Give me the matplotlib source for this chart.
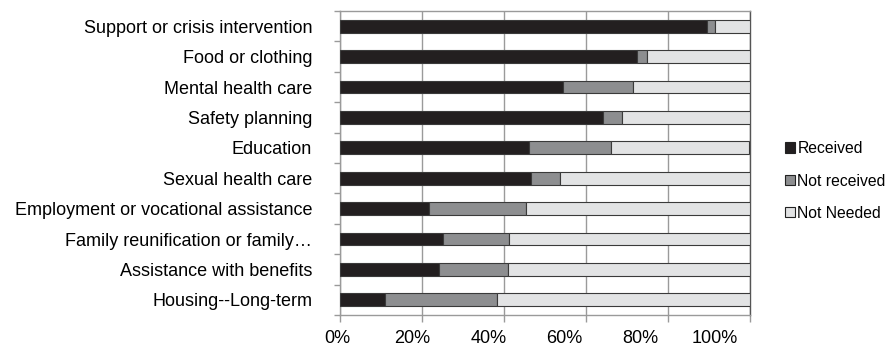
import matplotlib
matplotlib.use("Agg")
import matplotlib.pyplot as plt
import matplotlib.transforms as mtransforms
import numpy as np

categories = ["Support or crisis intervention", "Food or clothing", "Mental health care",
              "Safety planning", "Education", "Sexual health care",
              "Employment or vocational assistance", "Family reunification or family…",
              "Assistance with benefits", "Housing--Long-term"]
received = [89.7, 72.6, 54.4, 64.2, 46.2, 46.7, 21.7, 25.2, 24.1, 11.1]
not_received = [1.9, 2.3, 17.2, 4.6, 20.0, 7.1, 23.8, 16.1, 16.9, 27.3]
not_needed = [100 - a - b for a, b in zip(received, not_received)]
series_names = ["Received", "Not received", "Not Needed"]
colors = ["#231f20", "#8d8e90", "#e2e3e4"]
xticks = [0, 20, 40, 60, 80, 100]
xticklabels = ["0%", "20%", "40%", "60%", "80%", "100%"]

plt.rcParams['font.family'] = ['Liberation Sans', 'DejaVu Sans']

fig = plt.figure(figsize=(8.89, 3.5), dpi=100)
ax = fig.add_axes([340/889, 1 - 315/350, (749.5 - 340)/889, (315 - 11)/350])

y = np.arange(len(categories))
left = np.zeros(len(categories))
for vals, name, c in zip([received, not_received, not_needed], series_names, colors):
    ax.barh(y, vals, left=left, height=0.42, color=c, edgecolor="#3a3a3a",
            linewidth=0.8, label=name, zorder=3)
    left = left + np.array(vals)

ax.set_ylim(len(categories) - 0.5, -0.5)
ax.set_xlim(0, 100)
ax.set_xticks(xticks)
ax.set_xticklabels(xticklabels, fontsize=13)
ax.set_yticks(y)
ax.set_yticklabels(categories, fontsize=13)
ax.set_yticks(np.arange(len(categories) + 1) - 0.5, minor=True)
ax.tick_params(axis='y', which='major', length=0, pad=20)
ax.tick_params(axis='y', which='minor', length=4, color="#9a9a9a", width=1)
ax.tick_params(axis='x', length=5, color="#9a9a9a", width=1, pad=5.5)
ax.grid(axis='x', color="#9a9a9a", linewidth=1, zorder=0)
for s in ax.spines.values():
    s.set_color("#9a9a9a")
    s.set_linewidth(1)
ax.spines['right'].set_color("#555555")

# shift x tick labels slightly left, as in the reference rendering
label_shift_px = [-3, -10, -15, -21, -27, -35]
for lab, dx in zip(ax.get_xticklabels(), label_shift_px):
    lab.set_transform(lab.get_transform() +
                      mtransforms.ScaledTranslation(dx / 100, 0, fig.dpi_scale_trans))

leg = fig.legend(loc="center left", bbox_to_anchor=(779/889, 1 - 181/350),
                 frameon=False, fontsize=11.3, handlelength=0.65, handleheight=0.65,
                 handletextpad=0.12, labelspacing=1.1, borderaxespad=0)
for h in leg.legend_handles:
    h.set_edgecolor("#222222")

fig.savefig("out.png", dpi=100)
